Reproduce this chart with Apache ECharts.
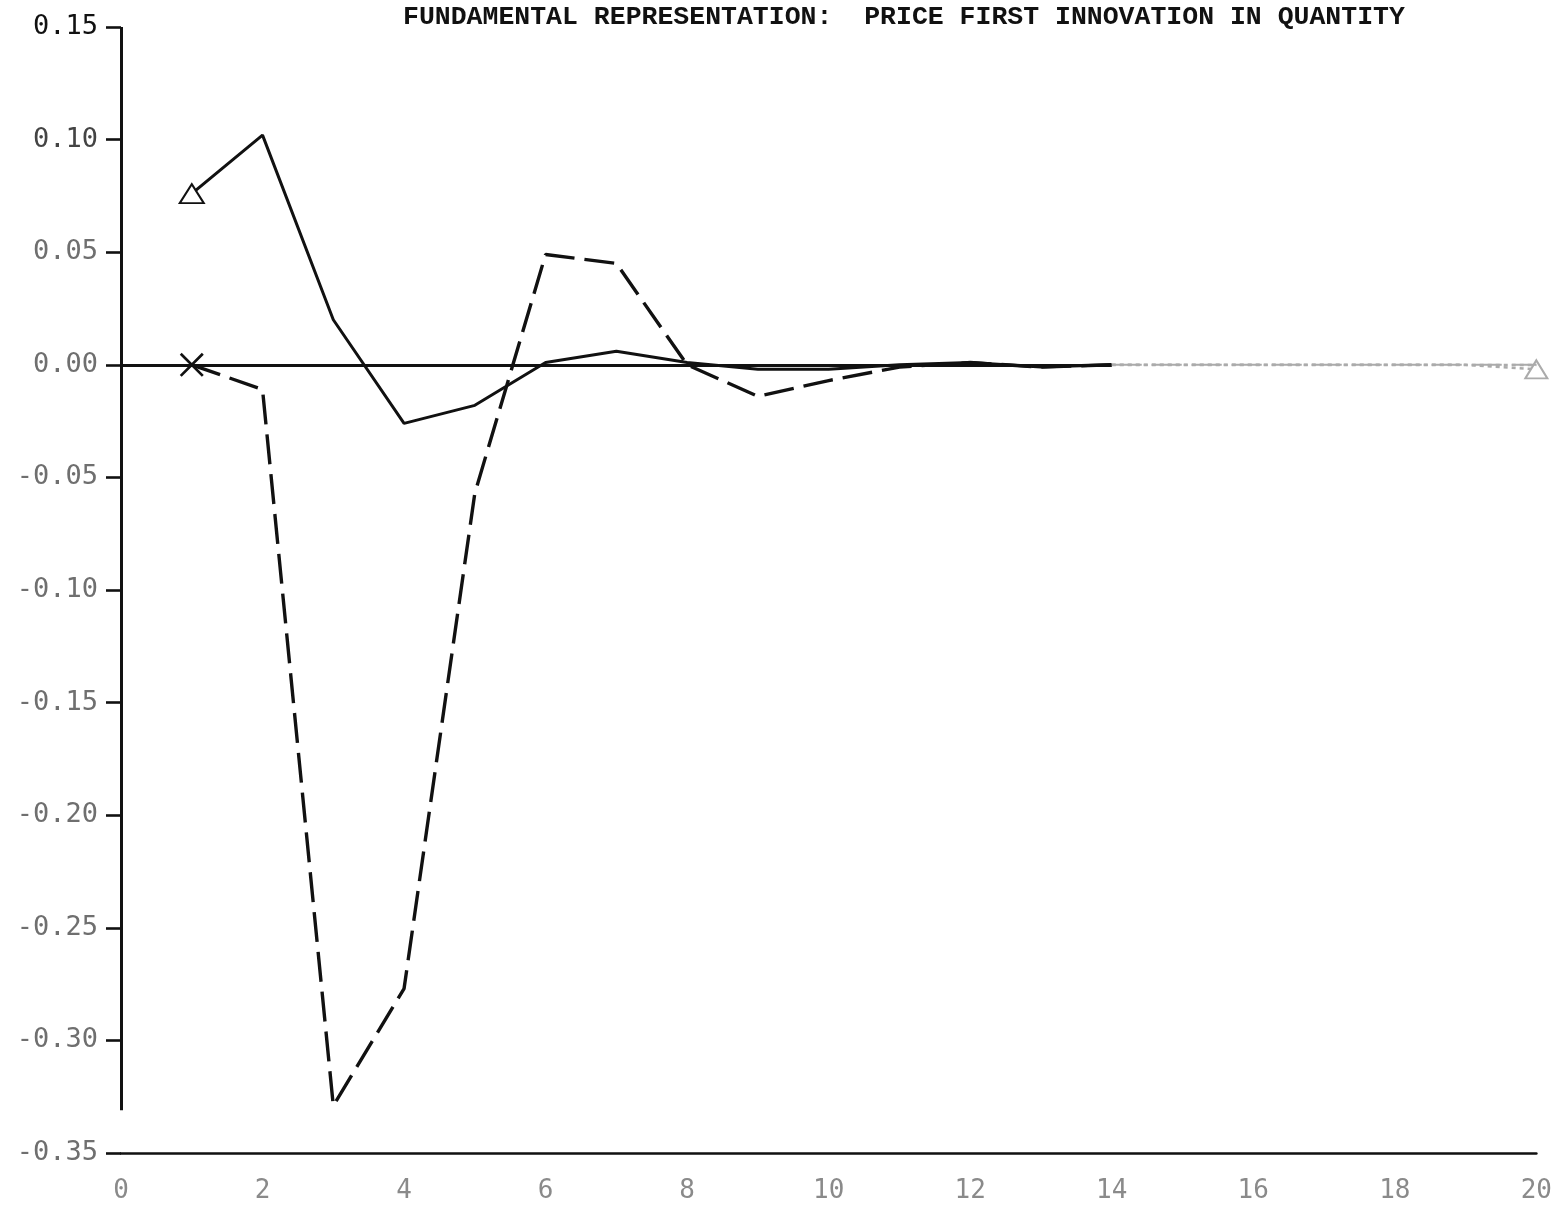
<!DOCTYPE html>
<html>
<head>
<meta charset="utf-8">
<title>Fundamental representation: price first innovation in quantity</title>
<script src="https://cdn.jsdelivr.net/npm/echarts@6/dist/echarts.min.js"></script>
<style>
  html, body { margin: 0; padding: 0; background: #ffffff; }
  #chart { width: 1555px; height: 1211px; }
</style>
</head>
<body>
<div id="chart"></div>
<script>
// Horizon (periods after the innovation)
const periods = [1, 2, 3, 4, 5, 6, 7, 8, 9, 10, 11, 12, 13, 14, 15, 16, 17, 18, 19, 20];

// Solid response (triangle markers)
const responseSolid = [0.076, 0.102, 0.020, -0.026, -0.018, 0.001, 0.006, 0.001, -0.002, -0.002,
                       0.000, 0.001, -0.001, 0.000, 0.000, 0.000, 0.000, 0.000, 0.000, -0.002];

// Dashed response (cross marker)
const responseDashed = [0.000, -0.011, -0.329, -0.277, -0.057, 0.049, 0.045, 0.000, -0.014, -0.007,
                        -0.001, 0.001, -0.001, 0.000, 0.000, 0.000, 0.000, 0.000, 0.000, 0.000];

// Axis ticks
const xTicks = [0, 2, 4, 6, 8, 10, 12, 14, 16, 18, 20];
const yTicks = [-0.35, -0.30, -0.25, -0.20, -0.15, -0.10, -0.05, 0.00, 0.05, 0.10, 0.15];

const titleText = 'FUNDAMENTAL REPRESENTATION:  PRICE FIRST INNOVATION IN QUANTITY';

const INK = '#111111';
const FADED = '#ababab';
// the print fades out beyond this period
const FADE_FROM = 14;
// thin diagonal cross used as the marker of the dashed response
const crossPath = 'path://M0,0.8L0.8,0L10,9.2L9.2,10Z M9.2,0L10,0.8L0.8,10L0,9.2Z';

// Build [x, y] items, marking the first and/or last point of the whole response
function points(values, firstSymbol, lastSymbol, keep) {
  const out = [];
  values.forEach((v, i) => {
    if (!keep(periods[i])) return;
    const item = { value: [periods[i], v], symbol: 'none' };
    if (i === 0 && firstSymbol) item.symbol = firstSymbol;
    if (i === values.length - 1 && lastSymbol) item.symbol = lastSymbol;
    out.push(item);
  });
  return out;
}
const head = x => x <= FADE_FROM;
const tail = x => x >= FADE_FROM;

const solidStyle = { width: 3, type: 'solid' };
const dashedStyle = { width: 3.4, type: [30, 10] };

const chart = echarts.init(document.getElementById('chart'), null, { renderer: 'canvas' });

chart.setOption({
  backgroundColor: '#ffffff',
  animation: false,
  title: {
    text: titleText,
    left: 398,
    top: -1,
    textStyle: {
      fontFamily: '"Liberation Mono", "DejaVu Sans Mono", monospace',
      fontWeight: 'bold',
      fontSize: 26.5,
      color: '#111111'
    }
  },
  grid: { left: 121, right: 15, top: 27, bottom: 58, containLabel: false },
  xAxis: {
    type: 'value',
    min: xTicks[0],
    max: xTicks[xTicks.length - 1],
    interval: xTicks[1] - xTicks[0],
    axisLine: { show: true, onZero: false, lineStyle: { color: INK, width: 2.6 } },
    axisTick: { show: false },
    splitLine: { show: false },
    axisLabel: {
      margin: 25,
      fontFamily: '"DejaVu Sans Mono", monospace',
      fontSize: 26,
      color: '#8a8a8a'
    }
  },
  yAxis: {
    type: 'value',
    min: yTicks[0],
    max: yTicks[yTicks.length - 1],
    interval: 0.05,
    axisLine: { show: false },
    axisTick: { show: true, length: 15, lineStyle: { color: INK, width: 2.6 } },
    splitLine: { show: false },
    axisLabel: {
      margin: 23,
      fontFamily: '"DejaVu Sans Mono", monospace',
      fontSize: 27,
      formatter: v => v.toFixed(2),
      color: (v) => (Math.abs(v - 0.15) < 1e-9 ? '#111111' : (Math.abs(v - 0.10) < 1e-9 ? '#444444' : '#6f6f6f'))
    }
  },
  series: [
    {
      name: 'solid',
      type: 'line',
      data: points(responseSolid, 'emptyTriangle', null, head),
      showSymbol: true,
      showAllSymbol: true,
      symbolSize: [24, 19],
      color: INK,
      lineStyle: Object.assign({ color: INK }, solidStyle),
      itemStyle: { color: INK, borderColor: INK, borderWidth: 2.4 },
      z: 3
    },
    {
      name: 'solid tail',
      type: 'line',
      data: points(responseSolid, null, 'emptyTriangle', tail),
      showSymbol: true,
      showAllSymbol: true,
      symbolSize: [22, 18],
      color: FADED,
      lineStyle: Object.assign({ color: FADED }, solidStyle, { width: 2.4, type: [4, 4] }),
      itemStyle: { color: FADED, borderColor: FADED, borderWidth: 2 },
      z: 3
    },
    {
      name: 'dashed',
      type: 'line',
      data: points(responseDashed, crossPath, null, head),
      showSymbol: true,
      showAllSymbol: true,
      symbolSize: 24,
      color: INK,
      lineStyle: Object.assign({ color: INK }, dashedStyle),
      itemStyle: { color: INK },
      z: 4
    },
    {
      name: 'dashed tail',
      type: 'line',
      data: points(responseDashed, null, null, tail),
      showSymbol: false,
      color: FADED,
      lineStyle: Object.assign({ color: FADED }, dashedStyle, { width: 2 }),
      z: 4
    },
    {
      name: 'frame',
      type: 'line',
      data: [],
      clip: false,
      silent: true,
      z: 2,
      markLine: {
        silent: true,
        symbol: 'none',
        label: { show: false },
        animation: false,
        data: [
          [{ coord: [0, 0], lineStyle: { color: INK, width: 3, type: 'solid' } }, { coord: [FADE_FROM, 0] }],
          [{ coord: [FADE_FROM, 0], lineStyle: { color: FADED, width: 2.4, type: [4, 4] } }, { coord: [20, 0] }],
          [{ coord: [0, 0.15], lineStyle: { color: INK, width: 3, type: 'solid' } }, { coord: [0, -0.331] }]
        ]
      }
    }
  ]
});
</script>
</body>
</html>
